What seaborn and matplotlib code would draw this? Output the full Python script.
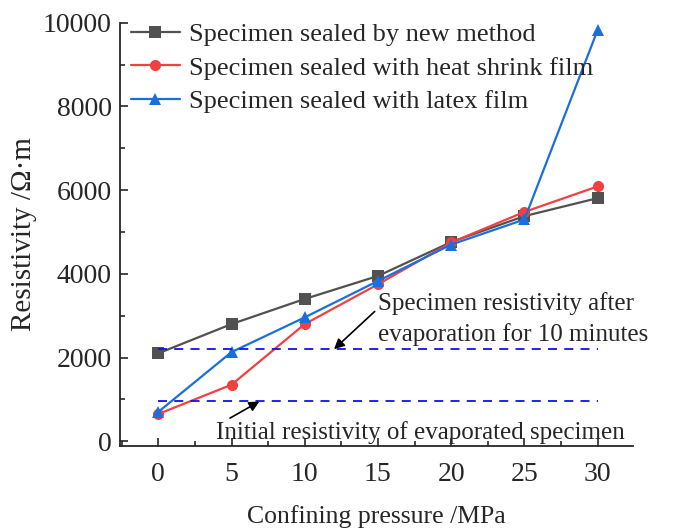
import matplotlib
matplotlib.use("Agg")
import matplotlib.pyplot as plt
import seaborn as sns
import pandas as pd
from matplotlib.ticker import MultipleLocator

pressure = [0, 5, 10, 15, 20, 25, 30]
new_method = [2100, 2800, 3400, 3950, 4760, 5380, 5810]
heat_shrink = [650, 1350, 2800, 3750, 4750, 5480, 6090]
latex = [700, 2130, 2960, 3830, 4700, 5300, 9830]
series_names = ["Specimen sealed by new method",
                "Specimen sealed with heat shrink film",
                "Specimen sealed with latex film"]
ref_levels = [2200, 950]
ref_labels = ["Specimen resistivity after\nevaporation for 10 minutes",
              "Initial resistivity of evaporated specimen"]

sns.set_style("ticks")
plt.rcParams["font.family"] = ["Liberation Serif", "DejaVu Serif"]
plt.rcParams["mathtext.fontset"] = "stix"

df = pd.concat([
    pd.DataFrame({"p": pressure, "r": vals, "s": name})
    for name, vals in zip(series_names, [new_method, heat_shrink, latex])
])

colors = ["#515151", "#F14040", "#1A6FDF"]
markers = ["s", "o", "^"]

fig = plt.figure(figsize=(6.79, 5.30), dpi=100)
ax = fig.add_axes([0.177, 0.158, 0.755, 0.799])

sns.lineplot(data=df, x="p", y="r", hue="s", style="s",
             palette=dict(zip(series_names, colors)),
             markers=dict(zip(series_names, markers)),
             dashes=False, markersize=8, linewidth=1.6,
             markeredgewidth=0, ax=ax)

ax.hlines(ref_levels, pressure[0], pressure[-1], colors="#1010EE",
          linestyles=(0, (5, 4)), linewidth=1.3)

ax.annotate(ref_labels[0], xy=(12.0, ref_levels[0]), xytext=(15.0, 2920),
            ha="left", va="center", fontsize=18, linespacing=1.4,
            arrowprops=dict(arrowstyle="-|>", color="black", lw=1.2,
                            mutation_scale=15, shrinkA=0, shrinkB=0,
                            relpos=(0, 0.7)))
ax.annotate(ref_labels[1], xy=(6.9, ref_levels[1]), xytext=(17.9, 200),
            ha="center", va="center", fontsize=18,
            arrowprops=dict(arrowstyle="-|>", color="black", lw=1.2,
                            mutation_scale=15, shrinkA=0, shrinkB=0,
                            relpos=(0.02, 1.0)))

ax.set_xlim(-2.6, 32.4)
ax.set_ylim(-120, 10000)
ax.xaxis.set_major_locator(MultipleLocator(5))
ax.xaxis.set_minor_locator(MultipleLocator(2.5))
ax.yaxis.set_major_locator(MultipleLocator(2000))
ax.yaxis.set_minor_locator(MultipleLocator(1000))
ax.tick_params(which="both", direction="in", width=1.2, labelsize=20)
ax.tick_params(which="major", length=6)
ax.tick_params(which="minor", length=3.5)
ax.tick_params(axis="x", pad=11)
ax.tick_params(axis="y", pad=6)
for sp in ["top", "right"]:
    ax.spines[sp].set_visible(False)
for sp in ["left", "bottom"]:
    ax.spines[sp].set_linewidth(1.3)

ax.set_xlabel("Confining pressure /MPa", fontsize=18.5, labelpad=13)
ax.set_ylabel("Resistivity /Ω·m", fontsize=21, labelpad=4)

leg = ax.legend(loc="upper left", bbox_to_anchor=(0.0, 1.025), frameon=False,
                fontsize=19, handlelength=1.85, handletextpad=0.35,
                labelspacing=0.38, borderaxespad=0.2, borderpad=0.2)

fig.savefig("out.png", dpi=100)
